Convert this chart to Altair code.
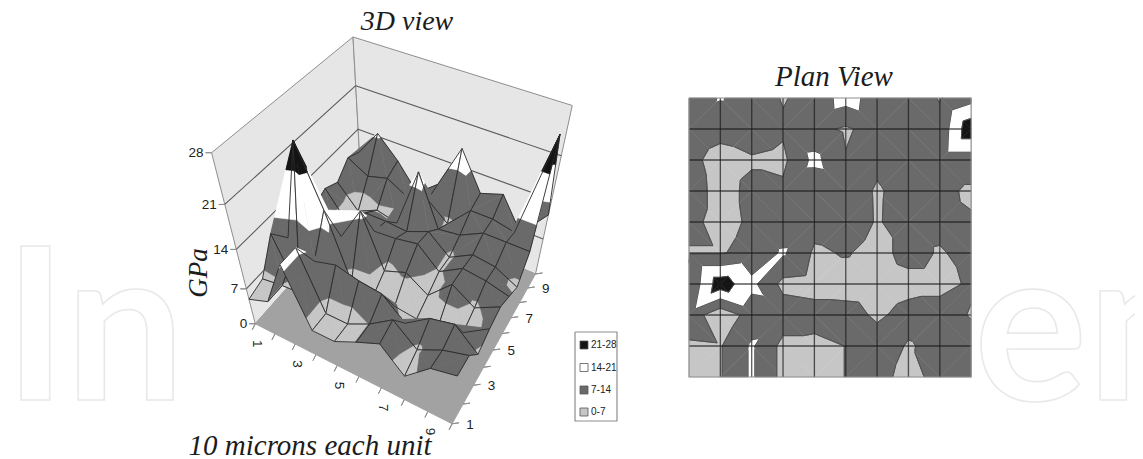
import altair as alt, numpy as np, pandas as pd

# Surface heights in GPa, one list per row of the plan view (top to bottom), left to right
ROW_0 = [10, 14.5, 11, 6.5, 9.5, 17, 10.75, 12, 6.5, 11.4]
ROW_1 = [11, 9, 10, 8, 9, 6, 10, 10, 9.2, 26]
ROW_2 = [8.7, 4.7, 6.4, 5.5, 16, 7.5, 8, 10, 10, 10]
ROW_3 = [9.8, 5, 8.3, 8.3, 8, 9.6, 6.5, 8.7, 8.2, 6.2]
ROW_4 = [8.6, 5, 7.9, 9, 9.3, 10, 6.6, 9, 8.5, 7.5]
ROW_5 = [6.5, 6.5, 9, 15, 6, 7.5, 5, 9, 6.5, 8.7]
ROW_6 = [8.1, 25, 16, 5, 4, 4, 3.5, 5, 5, 7.9]
ROW_7 = [11.4, 2, 9.9, 11, 10, 9.5, 6, 9, 10, 6.5]
ROW_8 = [5.9, 6.5, 15, 5, 5, 7.1, 10, 6.5, 8.7, 10]
ROW_9 = [5, 6.5, 15, 5, 5, 7.1, 9, 5, 9, 10]
ROWS = [ROW_0, ROW_1, ROW_2, ROW_3, ROW_4, ROW_5, ROW_6, ROW_7, ROW_8, ROW_9]

LEVELS = [0, 7, 14, 21, 28]
BANDS = ["0-7", "7-14", "14-21", "21-28"]
BAND_COLORS = ["#c6c6c6", "#6a6a6a", "#ffffff", "#141414"]
Z_TICKS = [0, 7, 14, 21, 28]
AXIS_TICKS = [1, 3, 5, 7, 9]
LEGEND_ORDER = ["21-28", "14-21", "7-14", "0-7"]

W, H = 1127, 451
Z = np.array(ROWS, float)

# Camera of the 3D view, solved from the box corners
world = [(0,0,0),(9,0,0),(9,9,0),(0,9,0),(0,0,28),(9,0,28),(0,9,28)]
screen = [(363,202),(535,275),(452,423),(255,325),(352,38),(573,105),(212,152)]
A, b = [], []
for (u,v,z),(sx,sy) in zip(world, screen):
    A.append([u,v,z,1,0,0,0,0,-sx*u,-sx*v,-sx*z]); b.append(sx)
    A.append([0,0,0,0,u,v,z,1,-sy*u,-sy*v,-sy*z]); b.append(sy)
cam = np.linalg.lstsq(np.array(A,float), np.array(b,float), rcond=None)[0]
def proj(c, r, z):
    w = cam[8]*c + cam[9]*r + cam[10]*z + 1
    return ((cam[0]*c+cam[1]*r+cam[2]*z+cam[3])/w, (cam[4]*c+cam[5]*r+cam[6]*z+cam[7])/w)
PX0, PY0, PDX, PDY = 689.0, 98.0, 31.35, 31.0
def plan(c, r, z=0):
    return (PX0 + PDX*c, PY0 + PDY*r)

rows = []
nid = [0]
def add(pts, fill, stroke, sw):
    nid[0] += 1
    if pts[0] != pts[-1]:
        pts = list(pts) + [pts[0]]
    for i, (x, y) in enumerate(pts):
        rows.append(dict(id=nid[0], i=i, x=x, y=y, fill=fill, stroke=stroke, sw=sw))

def clip(poly, lev, keep_above):
    out = []
    n = len(poly)
    for k in range(n):
        a, b = poly[k], poly[(k+1) % n]
        ina = a[2] >= lev if keep_above else a[2] <= lev
        inb = b[2] >= lev if keep_above else b[2] <= lev
        if ina: out.append(a)
        if ina != inb:
            t = (lev-a[2])/(b[2]-a[2])
            out.append(tuple(a[j]+(b[j]-a[j])*t for j in range(3)))
    return out

def quad_tris(c, r):
    p = [(c,r,Z[r,c]),(c+1,r,Z[r,c+1]),(c+1,r+1,Z[r+1,c+1]),(c,r+1,Z[r+1,c])]
    top = int(np.argmax([q[2] for q in p]))
    if top % 2 == 0:
        return [[p[0],p[1],p[2]],[p[0],p[2],p[3]]], p
    return [[p[0],p[1],p[3]],[p[1],p[2],p[3]]], p

def draw_surface(mapper, grid_color, grid_w, contour):
    cells = sorted(((c,r) for c in range(9) for r in range(9)), key=lambda t: t[0]+t[1])
    for c, r in cells:
        tris, corners = quad_tris(c, r)
        for t in tris:
            for bi in range(4):
                poly = clip(t, LEVELS[bi], True)
                if len(poly) >= 3: poly = clip(poly, LEVELS[bi+1], False)
                if len(poly) >= 3:
                    pts = [mapper(*q) for q in poly]
                    add(pts, BANDS[bi], BANDS[bi], 0.5)
            if contour:
                for lev in LEVELS[1:4]:
                    seg = []
                    for k in range(3):
                        a, b_ = t[k], t[(k+1)%3]
                        if (a[2]-lev)*(b_[2]-lev) < 0:
                            f = (lev-a[2])/(b_[2]-a[2])
                            seg.append(mapper(a[0]+(b_[0]-a[0])*f, a[1]+(b_[1]-a[1])*f, lev))
                    if len(seg) == 2:
                        add(seg, "none", "contour", 0.7)
        if grid_w:
            add([mapper(*q) for q in corners], "none", grid_color, grid_w)

# box: walls and floor
add([proj(0,9,0),proj(0,0,0),proj(0,0,28),proj(0,9,28)], "wall", "box", 1)
add([proj(0,0,0),proj(9,0,0),proj(9,0,28),proj(0,0,28)], "wall", "box", 1)
for z in Z_TICKS[1:4]:
    nid[0] += 1
    for i, q in enumerate([proj(0,9,z),proj(0,0,z),proj(9,0,z)]):
        rows.append(dict(id=nid[0], i=i, x=q[0], y=q[1], fill="none", stroke="wallgrid", sw=1.1))
add([proj(0,0,0),proj(9,0,0),proj(9,9,0),proj(0,9,0)], "floor", "floor", 1)
# ticks
for z in Z_TICKS:
    a = proj(0,9,z)
    add([a,(a[0]-6,a[1])], "none", "box", 1)
for t in range(1, 11):
    a = proj(t-1,9,0); add([a,(a[0]-3,a[1]+6)], "none", "box", 1)
    a = proj(9,10-t,0); add([a,(a[0]+7,a[1]-1)], "none", "box", 1)

draw_surface(proj, "grid3d", 0.9, False)

# plan view
draw_surface(plan, "none", 0, True)
for c in range(1, 9):
    nid[0] += 1
    for i, q in enumerate([plan(c,0),plan(c,9)]):
        rows.append(dict(id=nid[0], i=i, x=q[0], y=q[1], fill="none", stroke="plangrid", sw=1.3))
for r in range(1, 9):
    nid[0] += 1
    for i, q in enumerate([plan(0,r),plan(9,r)]):
        rows.append(dict(id=nid[0], i=i, x=q[0], y=q[1], fill="none", stroke="plangrid", sw=1.5))
add([plan(0,0),plan(9,0),plan(9,9),plan(0,9)], "none", "box", 1.2)

# legend
add([(575,332),(617,332),(617,421),(575,421)], "#legendbg", "box", 1.2)
leg_y = [345, 367.5, 390, 412]
for name, ly in zip(LEGEND_ORDER, leg_y):
    add([(580,ly-4),(588,ly-4),(588,ly+4),(580,ly+4)], name, "legendmark", 0.8)

df = pd.DataFrame(rows)
xs = alt.Scale(domain=[8, 8+W], range=[0, W])
ys = alt.Scale(domain=[8+H, 8], range=[H, 0])
X = alt.X("x:Q", scale=xs, axis=None)
Y = alt.Y("y:Q", scale=ys, axis=None)

fill_dom = BANDS + ["wall", "floor", "#legendbg", "none"]
fill_rng = BAND_COLORS + ["#e6e6e6", "#a2a2a2", "#ffffff", "transparent"]
stroke_dom = BANDS + ["box", "wallgrid", "floor", "grid3d", "contour", "plangrid", "legendmark"]
stroke_rng = BAND_COLORS + ["#8e8e8e", "#5a5a5a", "#a2a2a2", "#2a2a2a", "#4a4a4a", "rgba(25,25,25,0.72)", "#555555"]

shapes = alt.Chart(df).mark_line(interpolate="linear", clip=False, strokeJoin="round").encode(
    x=X, y=Y,
    order=alt.Order("i:Q"),
    detail="id:N",
    fill=alt.Fill("fill:N", scale=alt.Scale(domain=fill_dom, range=fill_rng), legend=None),
    stroke=alt.Stroke("stroke:N", scale=alt.Scale(domain=stroke_dom, range=stroke_rng), legend=None),
    strokeWidth=alt.StrokeWidth("sw:Q", scale=None),
)

def text_layer(items, **kw):
    d = pd.DataFrame(items, columns=["x", "y", "t"])
    return alt.Chart(d).mark_text(**kw).encode(x=X, y=Y, text="t:N")

wm = text_layer([(4, 400, "In"), (974, 400, "en")], font="Lato", fontWeight=700, fontSize=212, align="left", baseline="alphabetic",
                fill="#ffffff", stroke="#e9e9e9", strokeWidth=1.6)

z_lab = []
for z in Z_TICKS:
    q = proj(0,9,z); z_lab.append((q[0]-8, q[1]+0.5, str(z)))
ztext = text_layer(z_lab, font="Liberation Sans", fontSize=13.5, align="right", baseline="middle", fill="#222222")

left_lab = []; right_lab = []
for t in AXIS_TICKS:
    q = proj(t-1,9,0); left_lab.append((q[0]+2, q[1]+20, str(t)))
    q = proj(9,10-t,0); right_lab.append((q[0]+18, q[1]+1, str(t)))
ltext = text_layer(left_lab, font="Liberation Sans", fontSize=13.5, angle=90, align="center", baseline="middle", fill="#222222")
rtext = text_layer(right_lab, font="Liberation Sans", fontSize=13.5, align="center", baseline="middle", fill="#222222")

legtext = text_layer([(591, y, n) for n, y in zip(LEGEND_ORDER, leg_y)], font="Liberation Sans", fontSize=10,
                     align="left", baseline="middle", fill="#222222")
t1 = text_layer([(407, 22, "3D view")], font="Liberation Serif", fontStyle="italic", fontSize=28, align="center", baseline="middle", fill="#1c1c1c")
t2 = text_layer([(834, 77, "Plan View")], font="Liberation Serif", fontStyle="italic", fontSize=29, align="center", baseline="middle", fill="#1c1c1c")
t3 = text_layer([(310, 446, "10 microns each unit")], font="Liberation Serif", fontStyle="italic", fontSize=29, align="center", baseline="middle", fill="#1c1c1c")
gpa = text_layer([(199, 273, "GPa")], font="Liberation Serif", fontStyle="italic", fontSize=27, angle=270,
                 align="center", baseline="middle", fill="#1c1c1c")

chart = alt.layer(wm, shapes, ztext, ltext, rtext, legtext, t1, t2, t3, gpa).properties(
    width=W, height=H, padding=0, autosize=alt.AutoSizeParams(type="none")
).resolve_scale(x="shared", y="shared").configure_view(stroke=None)
chart.save("out.html", embed_options={"renderer": "svg", "actions": False})
